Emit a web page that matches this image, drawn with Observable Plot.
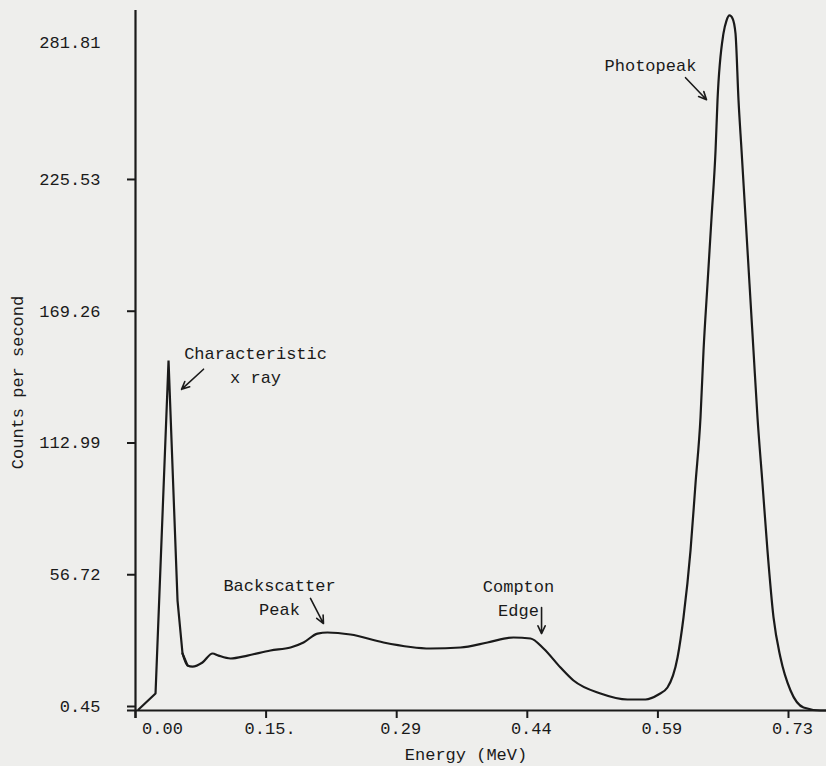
<!DOCTYPE html>
<html><head><meta charset="utf-8">
<script src="https://cdn.jsdelivr.net/npm/d3@7"></script>
<script src="https://cdn.jsdelivr.net/npm/@observablehq/plot@0.6"></script>
<style>html,body{margin:0;padding:0;background:#eeeeec;overflow:hidden}</style>
</head><body><div id="chart"></div>
<script>
const energy = [0.0034,0.0225,0.0371,0.0472,0.0528,0.0584,0.064,0.0752,0.0865,0.0932,0.1067,0.1258,0.1516,0.1741,0.1887,0.2044,0.2156,0.2414,0.2785,0.3313,0.365,0.3953,0.4245,0.4436,0.4582,0.4773,0.4919,0.5222,0.5525,0.5727,0.5873,0.5974,0.6087,0.6154,0.6233,0.6289,0.6345,0.6379,0.6424,0.6469,0.6514,0.6536,0.6603,0.6637,0.6671,0.6705,0.6738,0.6772,0.6806,0.6851,0.6895,0.694,0.6985,0.7041,0.7097,0.7165,0.7243,0.7356,0.7502,0.7693,0.776];
const counts = [0.88,7.71,149.9,47.4,24.8,19.7,19.2,20.95,24.8,23.9,22.66,23.9,26.08,27.36,29.49,33.3,33.77,32.9,29.49,26.93,27.36,29.49,31.63,31.2,26.93,18.8,13.26,7.71,5.15,5.15,7.28,10.27,23.09,40.17,68.8,97.4,125.6,154.2,182.8,211.0,239.6,261.0,289.6,295.1,297.3,296.0,289.6,261.0,239.6,211.0,182.8,154.2,125.6,97.4,68.8,40.17,23.09,8.99,1.73,0.45,0.45];
const xTickValues = [0, 0.14667, 0.29333, 0.44, 0.58667, 0.73333];
const xTickLabels = ["0.00", "0.15.", "0.29", "0.44", "0.59", "0.73"];
const yTickValues = [0.45, 56.72, 112.99, 169.26, 225.53, 281.81];
const yTickLabels = ["0.45", "56.72", "112.99", "169.26", "225.53", "281.81"];
const noteText = ["Characteristic\nx ray", "Backscatter\nPeak", "Compton\nEdge", "Photopeak"];
const noteX = [0.1348, 0.1617, 0.4301, 0.5783];
const noteY = [148.7, 49.6, 49.1, 276.8];
const arrowX1 = [0.0764, 0.1965, 0.456, 0.6177];
const arrowY1 = [146.2, 48.3, 44.4, 270.7];
const arrowX2 = [0.0517, 0.2111, 0.456, 0.6413];
const arrowY2 = [137.6, 37.6, 33.3, 261.3];
const xTitle = "Energy (MeV)";
const yTitle = "Counts per second";

const spectrum = energy.map((e, i) => ({e, c: counts[i], i}));
const xTicks = xTickValues.map((v, i) => ({v, label: xTickLabels[i]}));
const notes = noteText.map((t, i) => ({t, x: noteX[i], y: noteY[i]}));
const arrows = arrowX1.map((x1, i) => ({x1, y1: arrowY1[i], x2: arrowX2[i], y2: arrowY2[i]}));
const xMin = -0.009, xMax = 0.776, yMin = 0.45, yMax = 299.4;
const font = "Liberation Mono, DejaVu Sans Mono, monospace";
const ink = "#1a1a1a";
const spikeEnd = 5; // index where the x-ray spike's straight segments end

const chart = Plot.plot({
  width: 826, height: 766,
  marginLeft: 135, marginRight: 0, marginTop: 10, marginBottom: 56,
  x: {domain: [0, xMax]},
  y: {domain: [yMin, yMax]},
  style: {background: "#eeeeec", fontFamily: font, fontSize: "17px", color: ink},
  marks: [
    Plot.ruleY([yMin], {x1: xMin, x2: xMax, stroke: ink, strokeWidth: 2.2, clip: false}),
    Plot.ruleX([0], {y1: -3, y2: yMax, stroke: ink, strokeWidth: 2.2, clip: false}),
    Plot.axisY({ticks: yTickValues.slice(0, 5), tickSize: 8, tickPadding: 27, strokeWidth: 2,
      tickFormat: d => yTickLabels[yTickValues.indexOf(d)], fontSize: 17, dy: -4, label: null, fill: ink, stroke: ink}),
    Plot.axisY({ticks: yTickValues.slice(5), tickSize: 0, tickPadding: 35,
      tickFormat: d => yTickLabels[yTickValues.indexOf(d)], fontSize: 17, dy: -9, label: null, fill: ink}),
    Plot.axisX({ticks: xTickValues, tickSize: 8, strokeWidth: 2, tickFormat: () => "", label: null, stroke: ink}),
    Plot.text(xTicks.slice(0, 1), {x: "v", y: yMin, text: "label", dy: 18, dx: 27, fontSize: 17, fill: ink, clip: false}),
    Plot.text(xTicks.slice(1), {x: "v", y: yMin, text: "label", dy: 18, dx: 4, fontSize: 17, fill: ink, clip: false}),
    Plot.text([xTitle], {frameAnchor: "bottom", textAnchor: "middle", text: d => d, dy: 49, dx: -15, fontSize: 17, fill: ink}),
    Plot.text([yTitle], {frameAnchor: "left", textAnchor: "middle", text: d => d, rotate: -90, dx: -118, dy: 22, fontSize: 17, fill: ink}),
    Plot.line(spectrum, {filter: d => d.i <= spikeEnd, x: "e", y: "c", stroke: ink, strokeWidth: 2.2, curve: "linear", strokeLinejoin: "miter"}),
    Plot.line(spectrum, {filter: d => d.i >= spikeEnd - 1, x: "e", y: "c", stroke: ink, strokeWidth: 2.2, curve: "monotone-x"}),
    Plot.text(notes, {x: "x", y: "y", text: "t", lineHeight: 1.38, fontSize: 17, fill: ink, textAnchor: "middle"}),
    Plot.arrow(arrows, {x1: "x1", y1: "y1", x2: "x2", y2: "y2", stroke: ink, strokeWidth: 1.6, headLength: 8, headAngle: 50})
  ]
});
document.getElementById("chart").appendChild(chart);
</script>
</body></html>
